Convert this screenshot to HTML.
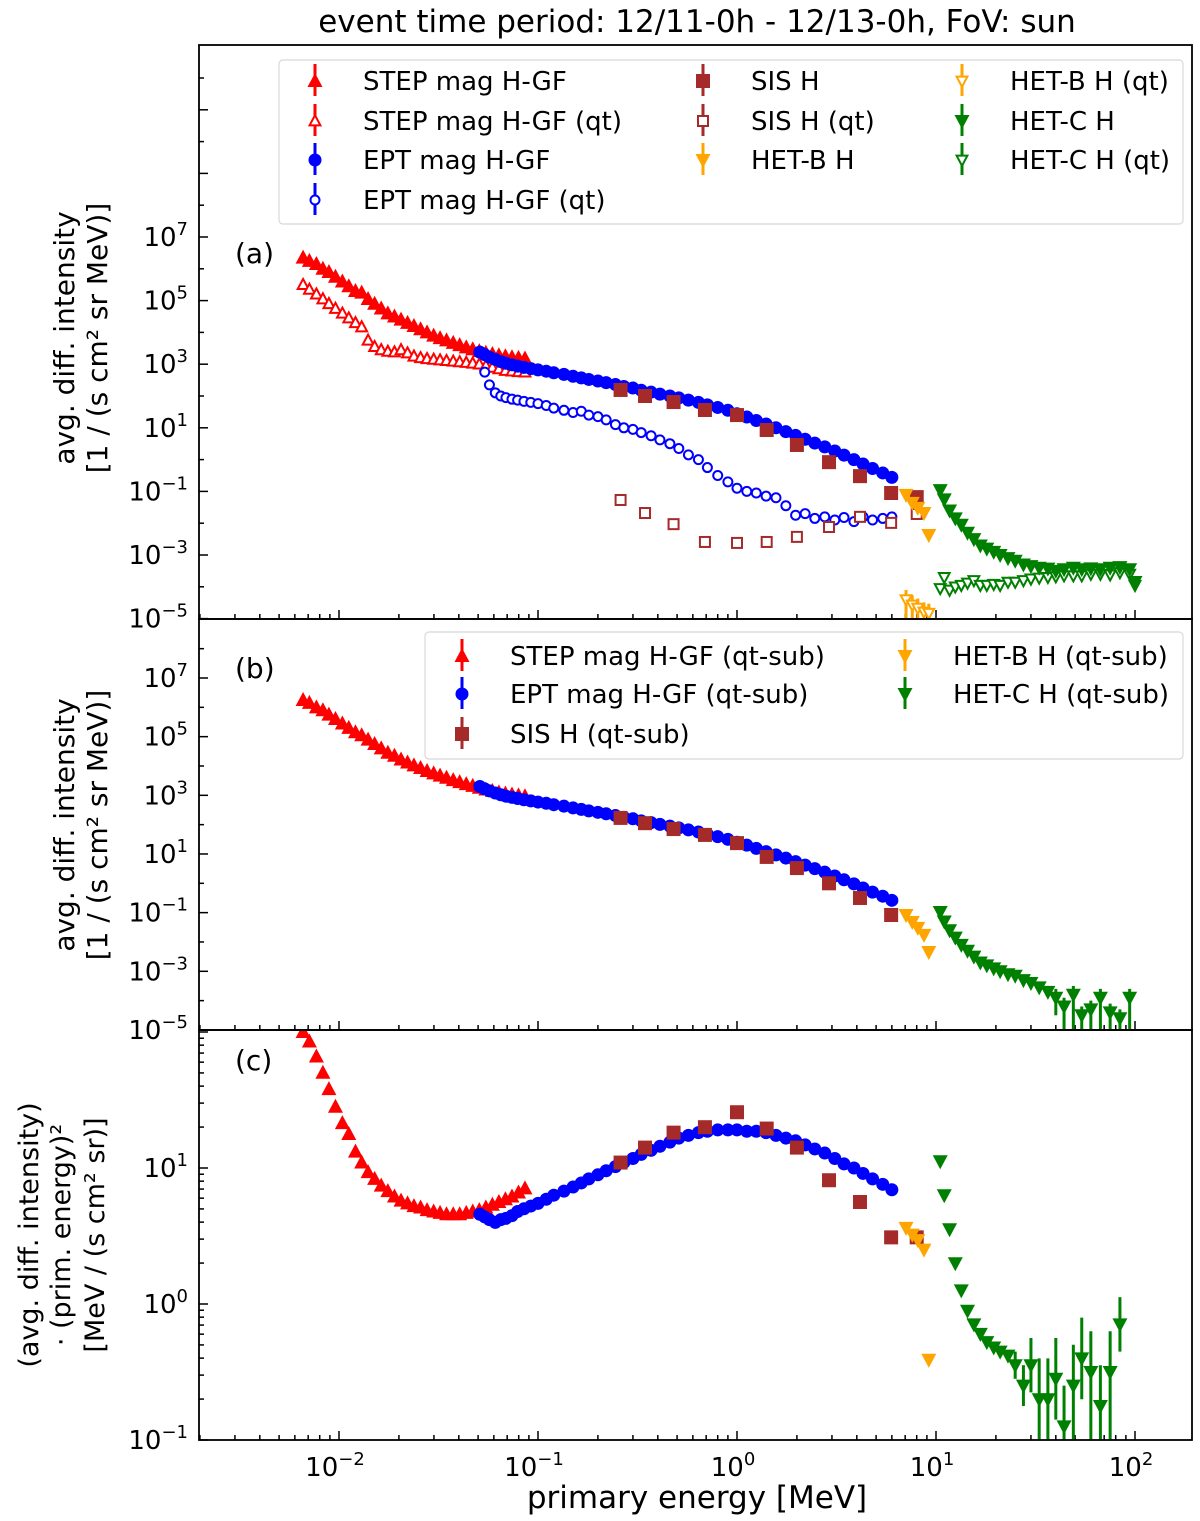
<!DOCTYPE html>
<html><head><meta charset="utf-8"><style>
html,body{margin:0;padding:0;background:#fff;}
svg{display:block;font-family:"DejaVu Sans","Liberation Sans",sans-serif;}
</style></head><body>
<svg id="chart" width="1200" height="1521" viewBox="0 0 1200 1521" xmlns="http://www.w3.org/2000/svg">
<rect x="0" y="0" width="1200" height="1521" fill="#fff"/>
<text x="697" y="32" font-size="31" text-anchor="middle">event time period: 12/11-0h - 12/13-0h, FoV: sun</text>
<text x="697" y="1508" font-size="31" text-anchor="middle">primary energy [MeV]</text>
<g font-size="28" text-anchor="middle">
<text transform="translate(74,338) rotate(-90)">avg. diff. intensity</text>
<text transform="translate(107,338) rotate(-90)">[1 / (s cm² sr MeV)]</text></g>
<g font-size="28" text-anchor="middle">
<text transform="translate(74,825) rotate(-90)">avg. diff. intensity</text>
<text transform="translate(107,825) rotate(-90)">[1 / (s cm² sr MeV)]</text></g>
<g font-size="27" text-anchor="middle">
<text transform="translate(38,1235) rotate(-90)">(avg. diff. intensity)</text>
<text transform="translate(70,1235) rotate(-90)">· (prim. energy)²</text>
<text transform="translate(104,1235) rotate(-90)">[MeV / (s cm² sr)]</text></g>
<defs>
<clipPath id="clipa"><rect x="199" y="45" width="993" height="574"/></clipPath>
<clipPath id="clipb"><rect x="199" y="619" width="993" height="411"/></clipPath>
<clipPath id="clipc"><rect x="199" y="1030" width="993" height="410"/></clipPath>
</defs>
<g id="layer"></g>
</svg>
<script>
// ---------- data (energies in MeV, intensities as log10 values) ----------
const stepE=[0.0066,0.0071,0.0077,0.0083,0.0089,0.0096,0.0104,0.0112,0.0121,0.013,0.014,0.0151,0.0163,0.0176,0.019,0.0205,0.0221,0.0238,0.0257,0.0277,0.0299,0.0322,0.0347,0.0375,0.0404,0.0436,0.047,0.0507,0.0547,0.059,0.0636,0.0686,0.074,0.0798,0.086];
const stepALog=[6.35,6.25,6.15,6.0,5.9,5.75,5.6,5.45,5.3,5.25,5.05,4.9,4.75,4.6,4.5,4.4,4.3,4.2,4.1,4.0,3.9,3.82,3.75,3.67,3.6,3.53,3.47,3.41,3.36,3.32,3.28,3.25,3.22,3.2,3.18];
const stepQtLog=[5.5,5.35,5.2,5.05,4.9,4.75,4.6,4.45,4.3,4.17,3.75,3.55,3.45,3.4,3.38,3.45,3.35,3.25,3.2,3.17,3.15,3.13,3.11,3.09,3.07,3.05,3.03,3.0,2.95,2.9,2.85,2.8,2.78,2.76,2.75];
const stepSubLog=[6.25,6.15,6.0,5.9,5.75,5.6,5.45,5.3,5.15,5.05,4.9,4.75,4.6,4.45,4.35,4.22,4.12,4.02,3.93,3.83,3.75,3.67,3.6,3.52,3.45,3.38,3.32,3.26,3.2,3.15,3.1,3.06,3.03,3.0,2.97];
const stepCLog=[2.0,1.93,1.82,1.7,1.58,1.45,1.33,1.25,1.12,1.04,0.97,0.92,0.87,0.83,0.79,0.76,0.74,0.72,0.71,0.69,0.68,0.67,0.66,0.66,0.66,0.67,0.68,0.69,0.71,0.73,0.75,0.77,0.79,0.82,0.85];

const eptE=[0.051,0.054,0.057,0.061,0.065,0.069,0.074,0.079,0.085,0.092,0.1,0.11,0.12,0.135,0.15,0.165,0.18,0.2,0.22,0.245,0.27,0.3,0.33,0.37,0.41,0.46,0.51,0.57,0.64,0.71,0.8,0.9,1.0,1.12,1.25,1.4,1.57,1.76,1.97,2.2,2.46,2.76,3.1,3.45,3.87,4.3,4.8,5.4,6.0];
const eptALog=[3.38,3.3,3.22,3.15,3.08,3.03,2.98,2.94,2.9,2.86,2.82,2.78,2.73,2.68,2.62,2.57,2.52,2.47,2.42,2.36,2.3,2.25,2.18,2.12,2.06,2.0,1.94,1.87,1.8,1.72,1.64,1.55,1.44,1.34,1.23,1.12,1.0,0.88,0.76,0.64,0.52,0.4,0.27,0.14,0.0,-0.14,-0.28,-0.42,-0.56];
const eptQtLog=[3.35,2.75,2.35,2.1,2.0,1.95,1.9,1.87,1.83,1.8,1.76,1.7,1.62,1.55,1.48,1.52,1.4,1.35,1.25,1.1,1.0,0.95,0.85,0.75,0.62,0.5,0.35,0.15,0.0,-0.25,-0.5,-0.7,-0.9,-1.0,-1.05,-1.15,-1.2,-1.45,-1.75,-1.7,-1.85,-1.8,-1.9,-1.82,-1.95,-1.8,-1.9,-1.85,-1.8];
const eptSubLog=[3.3,3.22,3.15,3.08,3.02,2.97,2.93,2.89,2.85,2.81,2.77,2.73,2.68,2.63,2.57,2.52,2.47,2.42,2.37,2.31,2.25,2.2,2.13,2.07,2.01,1.95,1.89,1.82,1.75,1.67,1.59,1.5,1.4,1.3,1.19,1.08,0.97,0.86,0.74,0.62,0.5,0.38,0.25,0.12,-0.02,-0.16,-0.3,-0.44,-0.58];
const eptCLog=[0.66,0.64,0.62,0.6,0.62,0.63,0.65,0.68,0.7,0.72,0.74,0.77,0.8,0.83,0.86,0.89,0.92,0.95,0.98,1.01,1.04,1.07,1.1,1.13,1.16,1.19,1.22,1.24,1.26,1.27,1.28,1.28,1.28,1.27,1.27,1.26,1.24,1.22,1.2,1.17,1.14,1.11,1.07,1.03,1.0,0.96,0.92,0.88,0.84];

const sisE=[0.26,0.345,0.48,0.69,1.0,1.41,2.0,2.9,4.15,5.95,8.0];
const sisALog=[2.19,2.0,1.81,1.56,1.4,0.93,0.46,-0.08,-0.52,-1.05,-1.18];
const sisQtLog=[-1.27,-1.68,-2.03,-2.59,-2.62,-2.59,-2.43,-2.12,-1.8,-1.99,-1.71];
const sisSubLog=[2.23,2.05,1.85,1.65,1.37,0.9,0.52,0.0,-0.5,-1.08,null];
const sisCLog=[1.04,1.15,1.26,1.3,1.41,1.29,1.15,0.91,0.75,0.49,0.49];

const hetbE=[7.07,7.6,8.1,8.7,9.2];
const hetbALog=[-1.11,-1.36,-1.52,-1.68,-2.37];
const hetbQtLog=[-4.4,-4.57,-4.67,-4.79,-4.83];
const hetbSubLog=[-1.08,-1.32,-1.52,-1.76,-2.34];
const hetbCLog=[0.56,0.51,0.47,0.4,-0.41];

const hetcE=[10.5,11,11.7,12.5,13.4,14.4,15.5,16.7,18,19.5,21,23,25,27.5,30,33,36.5,40,44,49,54,60,67,75,84,94,100];
const hetcALog=[-0.96,-1.25,-1.6,-1.85,-2.05,-2.3,-2.5,-2.7,-2.8,-2.9,-3.0,-3.1,-3.18,-3.3,-3.35,-3.4,-3.43,-3.5,-3.45,-3.4,-3.45,-3.42,-3.45,-3.4,-3.38,-3.45,-3.85];
const hetcQtLog=[-4.05,-3.7,-4.1,-4.0,-3.95,-3.88,-3.8,-3.95,-3.95,-3.92,-3.95,-3.85,-3.85,-3.8,-3.75,-3.72,-3.7,-3.68,-3.65,-3.65,-3.65,-3.6,-3.6,-3.62,-3.55,-3.6,-3.95];
const hetcSubLog=[-0.98,-1.3,-1.6,-1.85,-2.1,-2.3,-2.5,-2.7,-2.8,-2.9,-3.0,-3.1,-3.15,-3.3,-3.4,-3.55,-3.7,-3.9,-4.2,-3.8,-4.5,-4.3,-3.9,-4.4,-4.6,-3.9,null];
const hetcSubErr=[0,0,0,0,0,0,0,0,0,0,0,0,0,0,0,0,0,0.6,2,1.2,2,2,1.5,2,2,1.5,0];
const hetcCLog=[1.05,0.8,0.55,0.3,0.1,-0.05,-0.15,-0.22,-0.28,-0.32,-0.35,-0.38,-0.45,-0.6,-0.45,-0.7,-0.7,-0.55,-0.9,-0.6,-0.4,-0.5,-0.75,-0.5,-0.15,null,null];
const hetcCErr=[0,0,0,0,0,0,0,0,0,0,0,0,0.1,0.15,0.2,0.35,0.4,0.3,0.5,0.4,0.3,0.5,0.6,0.5,0.2,0,0];

const xTickLabels=["−2","−1","0","1","2"];
const xTickExps=[-2,-1,0,1,2];
const abTickExps=[-5,-3,-1,1,3,5,7];
const cTickExps=[-1,0,1];

// ---------- axes ----------
const L=199,R=1192;
const X=E=>737+199*Math.log10(E);
const panels={
 a:{top:45,bot:619,y:l=>237+31.8*(7-l),min:-5,max:12},
 b:{top:619,bot:1030,y:l=>678+29.33*(7-l),min:-5,max:8},
 c:{top:1030,bot:1440,y:l=>1168+136*(1-l),min:-1,max:2}
};
const NS="http://www.w3.org/2000/svg";
const layer=document.getElementById('layer');
function mk(tag,attrs,parent){const e=document.createElementNS(NS,tag);for(const k in attrs)e.setAttribute(k,attrs[k]);(parent||layer).appendChild(e);return e;}

const COL={red:"#ff0000",blue:"#0000ff",brown:"#a52a2a",orange:"#ffa500",green:"#008000"};
function marker(g,shape,x,y,color,hollow){
 let e;
 const fill=hollow?"#fff":color, sw=hollow?2:0;
 const k=hollow?0.72:1;
 if(shape==="up"){e=mk('polygon',{points:`${x},${y-8*k} ${x-7.5*k},${y+6*k} ${x+7.5*k},${y+6*k}`,fill:fill,stroke:color,'stroke-width':sw},g);}
 else if(shape==="down"){e=mk('polygon',{points:`${x},${y+8*k} ${x-7.5*k},${y-6*k} ${x+7.5*k},${y-6*k}`,fill:fill,stroke:color,'stroke-width':sw},g);}
 else if(shape==="circle"){e=mk('circle',{cx:x,cy:y,r:hollow?4.5:6.5,fill:fill,stroke:color,'stroke-width':sw},g);}
 else {const s=hollow?10:14;e=mk('rect',{x:x-s/2,y:y-s/2,width:s,height:s,fill:fill,stroke:color,'stroke-width':sw},g);}
 return e;
}
function series(pk,name,E,V,shape,color,hollow,err){
 const p=panels[pk];
 const g=mk('g',{'clip-path':`url(#clip${pk})`});
 
 
 E.forEach((e,i)=>{
  const v=V[i]; if(v===null||v===undefined) return;
  const x=X(e),y=p.y(v);
  if(err&&err[i]){
   const ln=mk('line',{x1:x,x2:x,y1:p.y(v+Math.min(err[i],0.3)),y2:p.y(v-err[i]),stroke:color,'stroke-width':3},g);
   
   
  }
  const m=marker(g,shape,x,y,color,hollow);
  
  
 });
}

function supLabel(g,x,y,exp,anchor){
 const t=mk('text',{x:x,y:y,'font-size':26,'text-anchor':anchor},g);
 t.appendChild(document.createTextNode("10"));
 const ts=mk('tspan',{dy:-11,'font-size':18},t);
 ts.textContent=exp;
 return t;
}

for(const k of ['a','b','c']){
 const p=panels[k];
 const g=mk('g',{});
 
 
 for(let d=-3;d<=2;d++){for(let m=1;m<10;m++){const E=m*Math.pow(10,d);const x=X(E);if(x<L||x>R)continue;
  mk('line',{x1:x,x2:x,y1:p.bot,y2:p.bot-(m===1?9:5),stroke:'#000','stroke-width':1.5},g);}}
 for(let d=p.min;d<=p.max;d++){
  for(let m=1;m<10;m++){
   if(k!=='c'&&m>1)continue;
   const y=p.y(d+Math.log10(m)); if(y<p.top-0.5||y>p.bot+0.5)continue;
   const major=(k==='c')?(m===1):(Math.abs(d)%2===1);
   mk('line',{x1:L,x2:L+(major?9:5),y1:y,y2:y,stroke:'#000','stroke-width':1.5},g);
  }
 }
 const exps=k==='c'?cTickExps:abTickExps;
 exps.forEach(ex=>{
  const lab=supLabel(g,188,p.y(ex)+9,ex<0?"−"+(-ex):""+ex,'end');
  
  
 });
}
const xg=mk('g',{});


xTickExps.forEach((ex,i)=>{const t=supLabel(xg,X(Math.pow(10,ex))-4,1476,xTickLabels[i],'middle');
 
 });

[['(a)',263],['(b)',678],['(c)',1070]].forEach(([s,y])=>{const t=mk('text',{x:235,y:y,'font-size':28},layer);t.textContent=s;
 
 });

series('a','step-filled-a',stepE,stepALog,'up',COL.red,false);
series('a','step-qt-a',stepE,stepQtLog,'up',COL.red,true);
series('a','ept-qt-a',eptE,eptQtLog,'circle',COL.blue,true);
series('a','ept-filled-a',eptE,eptALog,'circle',COL.blue,false);
series('a','sis-qt-a',sisE,sisQtLog,'square',COL.brown,true);
series('a','sis-filled-a',sisE,sisALog,'square',COL.brown,false);
series('a','hetb-qt-a',hetbE,hetbQtLog,'down',COL.orange,true,[1,1,1,1,1]);
series('a','hetb-filled-a',hetbE,hetbALog,'down',COL.orange,false);
series('a','hetc-qt-a',hetcE,hetcQtLog,'down',COL.green,true);
series('a','hetc-filled-a',hetcE,hetcALog,'down',COL.green,false);

series('b','step-sub-b',stepE,stepSubLog,'up',COL.red,false);
series('b','ept-sub-b',eptE,eptSubLog,'circle',COL.blue,false);
series('b','sis-sub-b',sisE,sisSubLog,'square',COL.brown,false);
series('b','hetb-sub-b',hetbE,hetbSubLog,'down',COL.orange,false);
series('b','hetc-sub-b',hetcE,hetcSubLog,'down',COL.green,false,hetcSubErr);

series('c','step-c',stepE,stepCLog,'up',COL.red,false);
series('c','ept-c',eptE,eptCLog,'circle',COL.blue,false);
series('c','sis-c',sisE,sisCLog,'square',COL.brown,false);
series('c','hetb-c',hetbE,hetbCLog,'down',COL.orange,false);
series('c','hetc-c',hetcE,hetcCLog,'down',COL.green,false,hetcCErr);

for(const k of ['a','b','c']){const p=panels[k];
 const r=mk('rect',{x:L,y:p.top,width:R-L,height:p.bot-p.top,fill:'none',stroke:'#000','stroke-width':1.8});
 
 }

function legend(name,box,entries){
 const g=mk('g',{});
 
 
 mk('rect',{x:box[0],y:box[1],width:box[2],height:box[3],rx:4,fill:'#fff','fill-opacity':0.85,stroke:'#d8d8d8','stroke-width':1.2},g);
 entries.forEach(en=>{
  const [mx,ty,label,shape,color,hollow]=en;
  const eg=mk('g',{},g);
  
  
  mk('line',{x1:mx,x2:mx,y1:ty-17,y2:ty+15,stroke:color,'stroke-width':3},eg);
  marker(eg,shape,mx,ty,color,hollow);
  const t=mk('text',{x:mx+48,y:ty+9,'font-size':26},eg);
  t.textContent=label;
 });
}
legend('legend-a',[279,60,904,164],[
 [315,81,'STEP mag H-GF','up',COL.red,false],
 [315,121,'STEP mag H-GF (qt)','up',COL.red,true],
 [315,160,'EPT mag H-GF','circle',COL.blue,false],
 [315,200,'EPT mag H-GF (qt)','circle',COL.blue,true],
 [703,81,'SIS H','square',COL.brown,false],
 [703,121,'SIS H  (qt)','square',COL.brown,true],
 [703,160,'HET-B H','down',COL.orange,false],
 [962,81,'HET-B H (qt)','down',COL.orange,true],
 [962,121,'HET-C H','down',COL.green,false],
 [962,160,'HET-C H (qt)','down',COL.green,true]
]);
legend('legend-b',[425,632,758,127],[
 [462,656,'STEP mag H-GF (qt-sub)','up',COL.red,false],
 [462,694,'EPT mag H-GF (qt-sub)','circle',COL.blue,false],
 [462,734,'SIS H (qt-sub)','square',COL.brown,false],
 [905,656,'HET-B H (qt-sub)','down',COL.orange,false],
 [905,694,'HET-C H (qt-sub)','down',COL.green,false]
]);
</script>
</body></html>
